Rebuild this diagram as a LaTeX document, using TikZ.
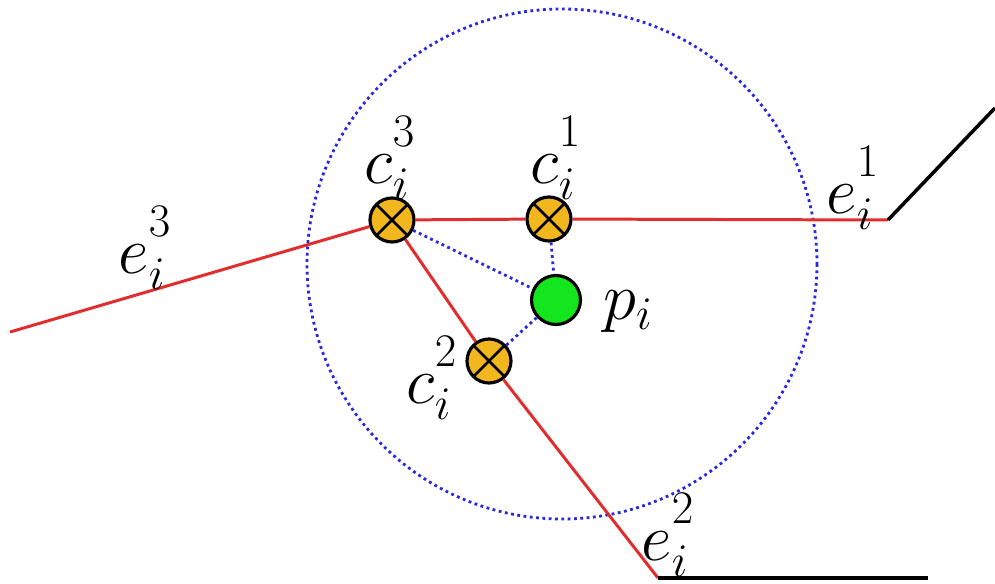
\RequirePackage{fix-cm}
\documentclass[tikz,border=0pt]{standalone}
\usepackage{tikz}
\usetikzlibrary{positioning}
\definecolor{edgered}{RGB}{225,45,45}
\definecolor{crossfill}{RGB}{242,182,30}
\definecolor{ptgreen}{RGB}{20,230,30}
\definecolor{radblue}{RGB}{40,40,220}
\newcommand{\symlab}[3]{$#1_{#2}^{\raisebox{0.45ex}{$\scriptstyle #3$}}$}

\tikzset{
  crossnode/.style={circle, draw=black, line width=1.8pt, fill=crossfill, minimum size=0.88cm, inner sep=0pt,
    path picture={\draw[line width=1.6pt] (path picture bounding box.north west) -- (path picture bounding box.south east)
      (path picture bounding box.north east) -- (path picture bounding box.south west);}},
  ptnode/.style={circle, draw=black, line width=1.8pt, fill=ptgreen, minimum size=0.98cm, inner sep=0pt},
  redline/.style={draw=edgered, line width=1.7pt},
  blackline/.style={draw=black, line width=2pt},
  radline/.style={draw=radblue, line width=1.6pt, dotted},
  lbl/.style={font=\fontsize{38}{42}\selectfont, inner sep=0pt}
}

\begin{document}
\begin{tikzpicture}[x=0.02cm, y=-0.02cm]
\useasboundingbox (0,0) rectangle (995,584);
% search radius
\draw[radline] (562,264) circle (255);
% end points of the edges
\coordinate (e3end) at (10,332);
\coordinate (e1end) at (888,220);
\coordinate (e1far) at (995,108);
\coordinate (e2end) at (658,578);
\coordinate (e2far) at (928,578);
% candidates and point
\node[crossnode] (c3) at (392,220) {};
\node[crossnode] (c1) at (549,219) {};
\node[ptnode] (p) at (556,300) {};
\node[crossnode] (c2) at (489,361) {};
% edges
\draw[redline] (e3end) -- (c3);
\draw[redline] (c3) -- (c1) -- (e1end);
\draw[blackline] (e1end) -- (e1far);
\draw[redline] (c3) -- (c2) -- (e2end);
\draw[blackline] (e2end) -- (e2far);
% distances
\draw[radline] (c3) -- (p);
\draw[radline] (c1) -- (p);
\draw[radline] (c2) -- (p);
% labels
\node[lbl] (le3) at (145,248) {\symlab{e}{i}{3}};
\node[lbl] (lc3) at (390,158) {\symlab{c}{i}{3}};
\node[lbl] (lc1) at (556,158) {\symlab{c}{i}{1}};
\node[lbl] (le1) at (853,188) {\symlab{e}{i}{1}};
\node[lbl] (lp) at (628,312) {$p_i$};
\node[lbl] (lc2) at (432,378) {\symlab{c}{i}{2}};
\node[lbl] (le2) at (668,535) {\symlab{e}{i}{2}};
\end{tikzpicture}
\end{document}
